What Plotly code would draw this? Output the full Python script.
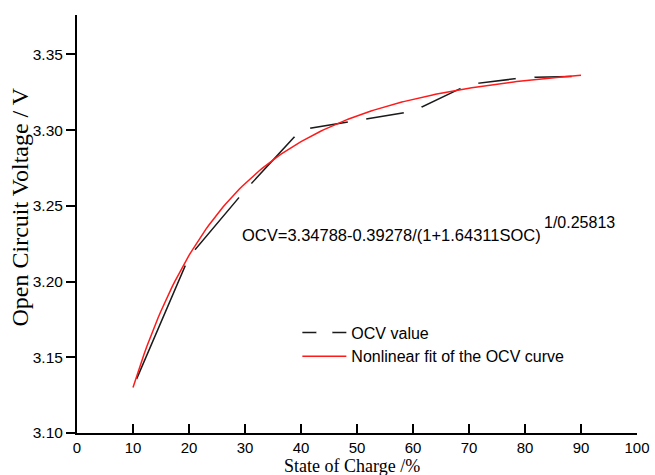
import numpy as np
import plotly.graph_objects as go

# Measured open circuit voltage at each state of charge
soc_pct = [10, 20, 30, 40, 50, 60, 70, 80, 90]
ocv_measured = [3.1301, 3.2163, 3.2602, 3.3002, 3.3063, 3.3125, 3.3302, 3.3347, 3.3356]

# Coefficients of the nonlinear fit OCV = a - b / (1 + c*SOC)^(1/n), SOC as a fraction
fit_a = 3.34788
fit_b = 0.39278
fit_c = 1.64311
fit_n = 0.25813

x_ticks = [0, 10, 20, 30, 40, 50, 60, 70, 80, 90, 100]
y_ticks = [3.10, 3.15, 3.20, 3.25, 3.30, 3.35]

soc_fit = np.linspace(soc_pct[0], soc_pct[-1], 161)
ocv_fit = fit_a - fit_b / (1 + fit_c * soc_fit / 100.0) ** (1.0 / fit_n)

SANS = "Liberation Sans, Arial, sans-serif"
SERIF = "Liberation Serif, Times New Roman, serif"

fig = go.Figure()

# Measured points: straight segments with a small gap around each point
fig.add_trace(go.Scatter(
    x=soc_pct, y=ocv_measured, mode="lines+markers", name="OCV value",
    line=dict(color="#1a1a1a", width=1.5),
    marker=dict(symbol="circle", size=19, color="white", line=dict(width=0)),
))

fig.add_trace(go.Scatter(
    x=soc_fit, y=ocv_fit, mode="lines", name="Nonlinear fit of the OCV curve",
    line=dict(color="#ff1a1a", width=1.5),
))

# Fit equation with its exponent set as a raised label
fig.add_annotation(
    x=29.05, y=3.2305, xref="x", yref="y", xanchor="left", yanchor="middle",
    text="OCV=3.34788-0.39278/(1+1.64311SOC)", showarrow=False,
    font=dict(family=SANS, size=16.5, color="black"),
)
fig.add_annotation(
    x=83.0, y=3.2390, xref="x", yref="y", xanchor="left", yanchor="middle",
    text="1/0.25813", showarrow=False,
    font=dict(family=SANS, size=16, color="black"),
)

# Axis titles
fig.add_annotation(
    x=0.491, y=-0.078, xref="paper", yref="paper", xanchor="center", yanchor="middle",
    text="State of Charge /%", showarrow=False,
    font=dict(family=SERIF, size=18, color="black"),
)
fig.add_annotation(
    x=-0.1027, y=0.5407, xref="paper", yref="paper", xanchor="center", yanchor="middle",
    text="Open Circuit Voltage / V", showarrow=False, textangle=-90,
    font=dict(family=SERIF, size=24, color="black"),
)

fig.update_layout(
    width=655, height=475,
    margin=dict(l=77, r=18, t=15, b=42),
    paper_bgcolor="white", plot_bgcolor="white",
    showlegend=True,
    legend=dict(
        x=0.3935, y=0.281, xanchor="left", yanchor="top",
        bgcolor="rgba(0,0,0,0)", borderwidth=0,
        font=dict(family=SANS, size=16, color="black"),
        itemwidth=44, tracegroupgap=0,
    ),
    font=dict(family=SANS, color="black"),
)

fig.update_xaxes(
    range=[0, 100], tickvals=x_ticks, ticktext=[str(v) for v in x_ticks],
    showline=True, linecolor="black", linewidth=2,
    ticks="inside", ticklen=9, tickwidth=2, tickcolor="black",
    showgrid=False, zeroline=False, automargin=False,
    tickfont=dict(family=SANS, size=15, color="black"),
)
fig.update_yaxes(
    range=[3.10, 3.376], tickvals=y_ticks, ticktext=[f"{v:.2f}" for v in y_ticks],
    showline=True, linecolor="black", linewidth=2,
    ticks="outside", ticklen=9, tickwidth=2, tickcolor="black",
    showgrid=False, zeroline=False, automargin=False,
    tickfont=dict(family=SANS, size=15.5, color="black"),
)

fig.write_html("out.html")
